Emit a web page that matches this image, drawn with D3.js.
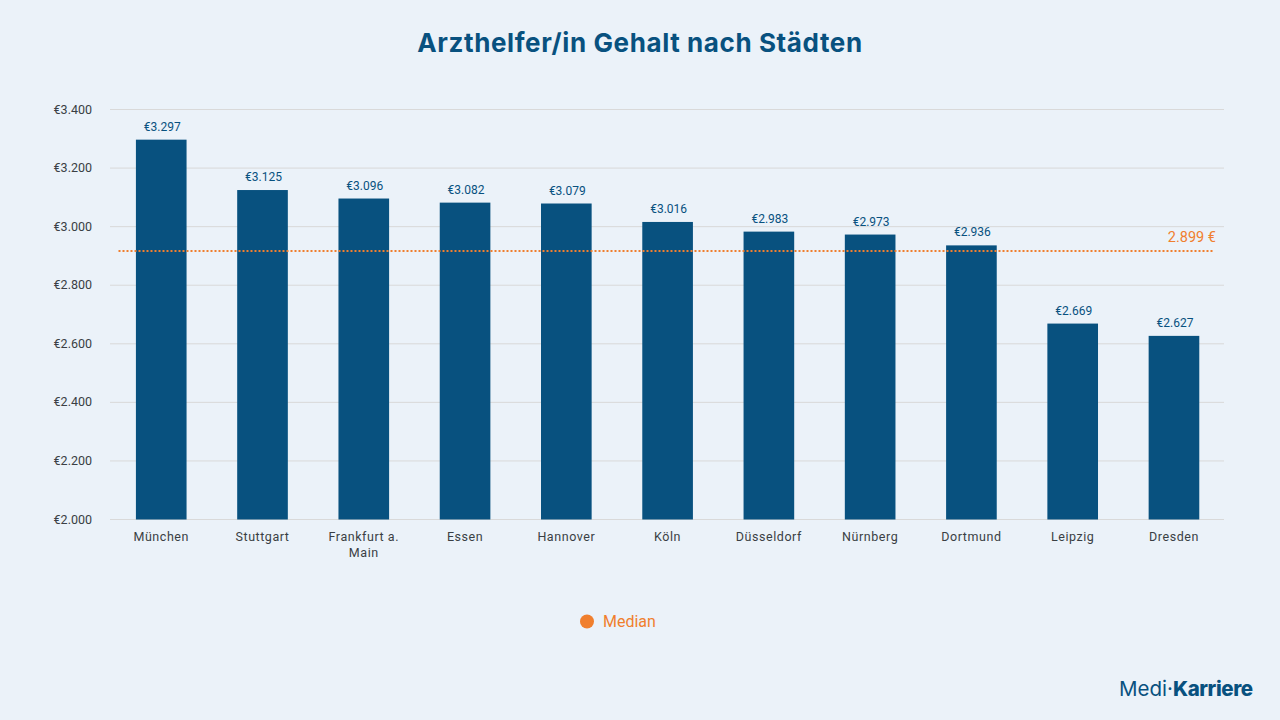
<!DOCTYPE html>
<html><head><meta charset="utf-8">
<script src="https://cdn.jsdelivr.net/npm/d3@7"></script>
<style>html,body{margin:0;padding:0;background:#ebf2f9;overflow:hidden}text{font-family:Roboto,sans-serif}</style>
</head><body><svg id="c" width="1280" height="720"></svg>
<script>
const categories=[["München"],["Stuttgart"],["Frankfurt a.","Main"],["Essen"],["Hannover"],["Köln"],["Düsseldorf"],["Nürnberg"],["Dortmund"],["Leipzig"],["Dresden"]];
const salaries=[3297,3125,3096,3082,3079,3016,2983,2973,2936,2669,2627];
const yTicks=[2000,2200,2400,2600,2800,3000,3200,3400];
const medianPosition=2917;
const medianLabel="2.899 €";
const titleText="Arzthelfer/in Gehalt nach Städten";
const legendLabel="Median";
const blue="#08517f",orange="#f07f2e",grid="#d9d9d9",ink="#3a3f44";
const svg=d3.select("#c");
const keys=categories.map(c=>c.join(" "));
const x=d3.scaleBand().domain(keys).range([110.6,1224.6]).paddingInner(0.5).paddingOuter(0.25);
const y=d3.scaleLinear().domain([2000,3400]).range([519.5,109.5]);
const euro=v=>"€"+d3.format(",")(v).replace(",",".");
svg.append("text").attr("x",640).attr("y",52).attr("text-anchor","middle").attr("font-size",26).attr("font-weight",700).attr("letter-spacing",0.6).attr("fill",blue).style("font-family","Inter,sans-serif").text(titleText);
const yAxis=svg.append("g").attr("transform","translate(110,0)").call(d3.axisLeft(y).offset(0).tickValues(yTicks).tickSize(-1114).tickPadding(18).tickFormat(euro));
yAxis.select(".domain").remove();
yAxis.selectAll("line").attr("stroke",grid).attr("stroke-width",1);
yAxis.selectAll("text").attr("font-size",12.5).attr("fill",ink).attr("font-family","Roboto,sans-serif");
svg.selectAll("rect.bar").data(salaries).join("rect").attr("class","bar")
 .attr("x",(d,i)=>x(keys[i])).attr("width",x.bandwidth()).attr("y",d=>y(d)).attr("height",d=>y(2000)-y(d)).attr("fill",blue);
svg.selectAll("text.val").data(salaries).join("text").attr("class","val")
 .attr("x",(d,i)=>x(keys[i])+x.bandwidth()/2+1).attr("y",d=>y(d)-9).attr("text-anchor","middle").attr("font-size",12).attr("fill",blue).text(euro);
categories.forEach((lines,i)=>{
 lines.forEach((t,j)=>svg.append("text").attr("x",x(keys[i])+x.bandwidth()/2).attr("y",541+j*16).attr("text-anchor","middle").attr("font-size",12.5).attr("letter-spacing",0.55).attr("fill",ink).text(t));
});
svg.append("line").attr("x1",118.5).attr("x2",1214.5).attr("y1",y(medianPosition)).attr("y2",y(medianPosition)).attr("stroke",orange).attr("stroke-width",2).attr("stroke-dasharray","2 2");
svg.append("text").attr("x",1216).attr("y",242).attr("text-anchor","end").attr("font-size",14.5).attr("fill",orange).text(medianLabel);
svg.append("circle").attr("cx",587).attr("cy",621.5).attr("r",7).attr("fill",orange);
svg.append("text").attr("x",603).attr("y",627).attr("font-size",16).attr("fill",orange).text(legendLabel);
const logo=svg.append("text").attr("x",1119).attr("y",696).attr("font-size",20.5).attr("fill",blue).style("font-family","Inter,sans-serif");
logo.append("tspan").attr("font-weight",400).text("Medi");
logo.append("tspan").attr("font-weight",400).text("·");
logo.append("tspan").attr("font-weight",800).attr("letter-spacing",-0.4).text("Karriere");
</script></body></html>
